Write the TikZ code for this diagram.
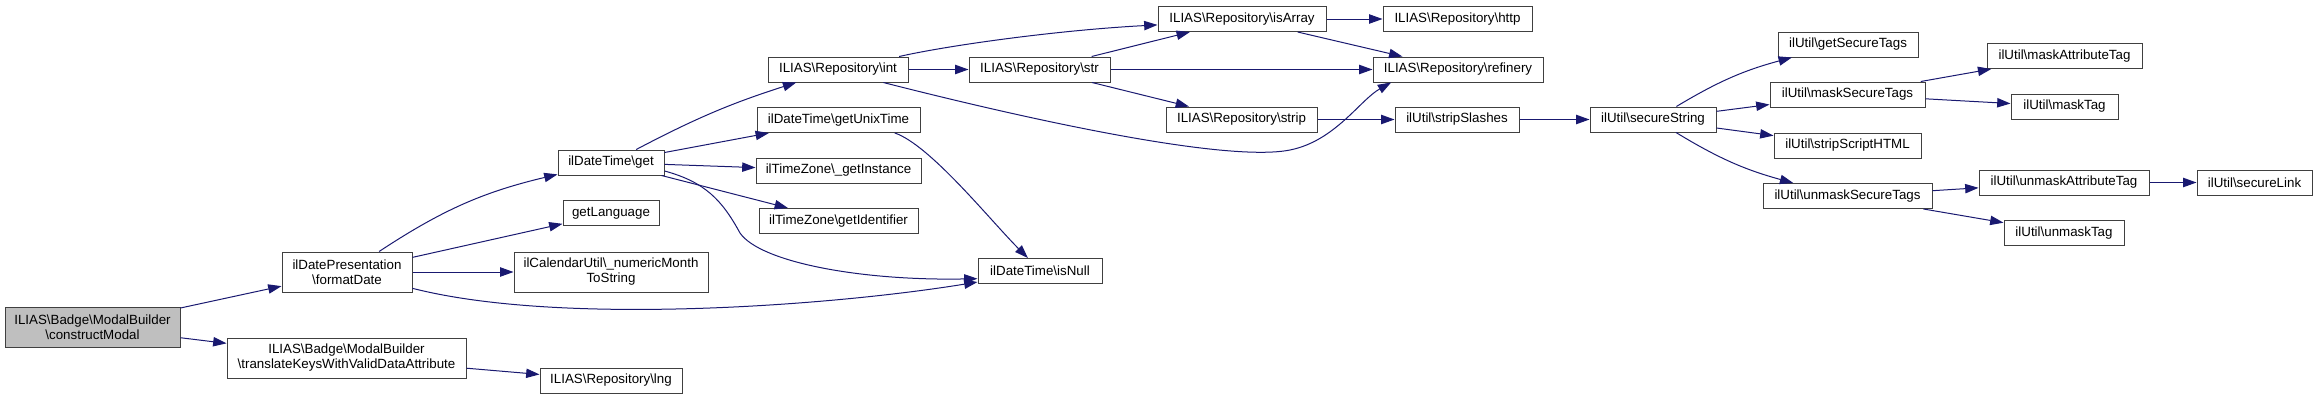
\documentclass[tikz,border=0pt]{standalone}
\usepackage{fontspec}
\setmainfont{Liberation Sans}
\usetikzlibrary{arrows.meta}
\definecolor{edgeblue}{HTML}{191970}
\newcommand{\bsl}{\textbackslash}

\begin{document}
\begin{tikzpicture}[x=0.75pt,y=-0.75pt,
    fn/.style={draw=black!75,line width=0.75pt,fill=white,align=center,inner sep=0pt,
        font=\fontsize{10}{11.25}\selectfont,minimum height=18.75pt},
    two/.style={minimum height=30pt},
    bw/.style={minimum width=#1*0.75pt},
    call/.style={-{Triangle[length=10pt,width=7pt]},draw=edgeblue,line width=0.75pt}]
    \useasboundingbox (0,0) rectangle (2317,400);
    % callers
    \node[fn,two,bw=175,fill=black!25] (cm) at (92.5,327) {ILIAS\bsl Badge\bsl ModalBuilder\\\bsl constructModal};
    \node[fn,two,bw=130] (fd) at (347,272) {ilDatePresentation\\\bsl formatDate};
    \node[fn,two,bw=239] (tk) at (346.5,358) {ILIAS\bsl Badge\bsl ModalBuilder\\\bsl translateKeysWithValidDataAttribute};
    \node[fn,bw=106] (get) at (611,162.5) {ilDateTime\bsl get};
    \node[fn,bw=96] (lang) at (611,213) {getLanguage};
    \node[fn,two,bw=194] (cal) at (611,272) {ilCalendarUtil\bsl \_numericMonth\\ToString};
    \node[fn,bw=142] (lng) at (611,380.5) {ILIAS\bsl Repository\bsl lng};
    \node[fn,bw=140] (int) at (838,69.5) {ILIAS\bsl Repository\bsl int};
    \node[fn,bw=163] (unix) at (838.5,120) {ilDateTime\bsl getUnixTime};
    \node[fn,bw=165] (inst) at (838.5,170.5) {ilTimeZone\bsl \_getInstance};
    \node[fn,bw=159] (ident) at (838.5,221) {ilTimeZone\bsl getIdentifier};
    \node[fn,bw=124] (isnull) at (1040,271) {ilDateTime\bsl isNull};
    \node[fn,bw=141] (str) at (1039.5,69.5) {ILIAS\bsl Repository\bsl str};
    \node[fn,bw=168] (isarr) at (1242,19) {ILIAS\bsl Repository\bsl isArray};
    \node[fn,bw=151] (strip) at (1241.5,119.5) {ILIAS\bsl Repository\bsl strip};
    \node[fn,bw=149] (http) at (1457.5,19) {ILIAS\bsl Repository\bsl http};
    \node[fn,bw=170] (refi) at (1458,69.5) {ILIAS\bsl Repository\bsl refinery};
    \node[fn,bw=124] (slash) at (1457,119.5) {ilUtil\bsl stripSlashes};
    \node[fn,bw=126] (secs) at (1653,119.5) {ilUtil\bsl secureString};
    \node[fn,bw=140] (gst) at (1848,44.5) {ilUtil\bsl getSecureTags};
    \node[fn,bw=155] (mst) at (1847.5,94.5) {ilUtil\bsl maskSecureTags};
    \node[fn,bw=147] (ssh) at (1847.5,145.5) {ilUtil\bsl stripScriptHTML};
    \node[fn,bw=169] (ust) at (1847.5,196) {ilUtil\bsl unmaskSecureTags};
    \node[fn,bw=155] (mat) at (2064.5,56) {ilUtil\bsl maskAttributeTag};
    \node[fn,bw=107] (mtag) at (2064.5,106.5) {ilUtil\bsl maskTag};
    \node[fn,bw=170] (uat) at (2064,182.5) {ilUtil\bsl unmaskAttributeTag};
    \node[fn,bw=120] (utag) at (2064,233) {ilUtil\bsl unmaskTag};
    \node[fn,bw=115] (link) at (2254.5,182.5) {ilUtil\bsl secureLink};
    % calls
    \draw[call] (cm) -- (fd);
    \draw[call] (cm) -- (tk);
    \draw[call] (tk) -- (lng);
    \draw[call] (fd) to[bend left=10] (get);
    \draw[call] (fd) -- (lang);
    \draw[call] (fd) -- (cal);
    \draw[call] (fd.-14) .. controls (560,326) and (830,306) .. (isnull.190);
    \draw[call] (get) to[bend left=5] (int);
    \draw[call] (get) -- (unix);
    \draw[call] (get) -- (inst);
    \draw[call] (get) -- (ident);
    \draw[call] (get.-9) .. controls (705,182) and (722,200) .. (740,233)
        .. controls (760,262) and (860,281) .. (isnull.187);
    \draw[call] (unix.-13) .. controls (930,145) and (990,220) .. (isnull.133);
    \draw[call] (int.12) .. controls (950,45) and (1060,30) .. (isarr.184);
    \draw[call] (int) -- (str);
    \draw[call] (int.-16) .. controls (1050,125) and (1230,162) .. (1290,150)
        .. controls (1335,141) and (1360,100) .. (refi.191);
    \draw[call] (str) -- (isarr);
    \draw[call] (str) -- (refi);
    \draw[call] (str) -- (strip);
    \draw[call] (isarr) -- (http);
    \draw[call] (isarr) -- (refi);
    \draw[call] (strip) -- (slash);
    \draw[call] (slash) -- (secs);
    \draw[call] (secs) to[bend left=8] (gst);
    \draw[call] (secs) -- (mst);
    \draw[call] (secs) -- (ssh);
    \draw[call] (secs) to[bend right=8] (ust);
    \draw[call] (mst) -- (mat);
    \draw[call] (mst) -- (mtag);
    \draw[call] (ust) -- (uat);
    \draw[call] (ust) -- (utag);
    \draw[call] (uat) -- (link);
\end{tikzpicture}
\end{document}
